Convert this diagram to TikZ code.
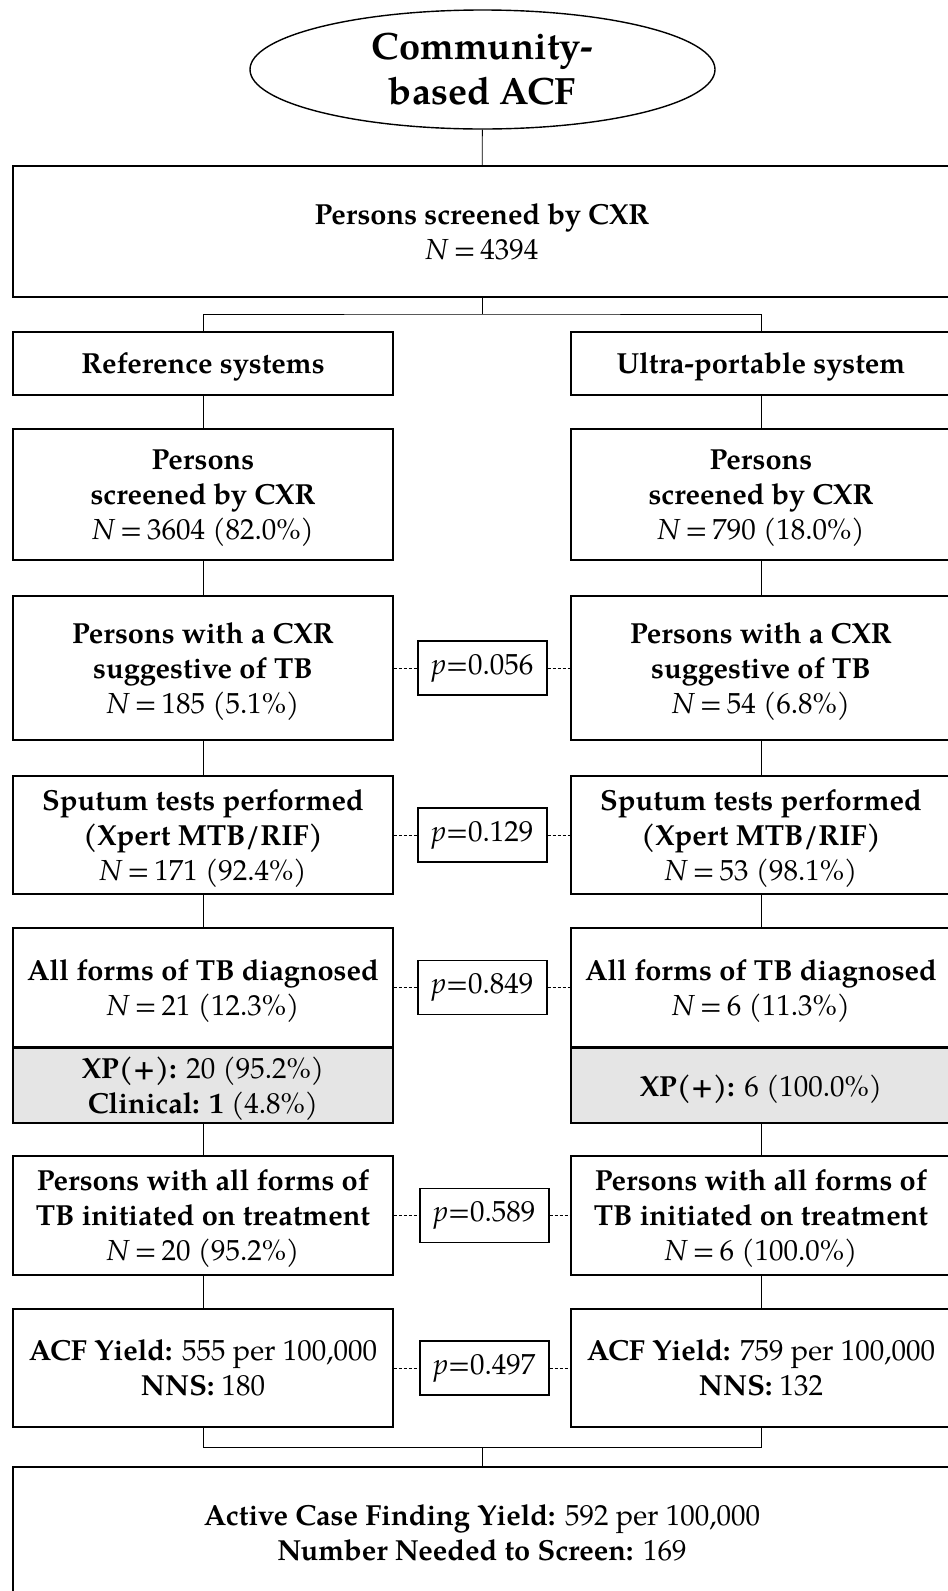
\documentclass[tikz,border=0pt]{standalone}
\usepackage{fontspec}
\setmainfont{TeX Gyre Pagella}
\usetikzlibrary{shapes.geometric}
\newcommand{\boxfont}{\fontsize{14.5pt}{17.5pt}\selectfont}
\newcommand{\titlefont}{\fontsize{19pt}{22.5pt}\selectfont}
\newcommand{\Neq}{\textit{N}\,=\,}
\tikzset{
	box/.style={draw, line width=0.7pt, minimum width=190pt, align=center, inner sep=2pt, text depth=0pt, font=\boxfont},
	widebox/.style={box, minimum width=469pt},
	greybox/.style={box, fill=black!10},
	pbox/.style={draw, line width=0.7pt, minimum width=64.5pt, minimum height=27pt, inner sep=1pt, font=\boxfont},
	link/.style={line width=0.45pt},
	plink/.style={line width=0.45pt, dash pattern=on 1.5pt off 1pt}
}
\begin{document}
\begin{tikzpicture}[x=0.5pt, y=-0.5pt]
		%%%%% START %%%%%
		\useasboundingbox[fill=white] (0, 0) rectangle (948, 1591);
		
		\node[draw, ellipse, line width=0.7pt, minimum width=232.5pt, minimum height=59.5pt, inner sep=0pt, align=center, font=\titlefont] (start) at (482.5, 69.5) {\textbf{Community-}\\\textbf{based ACF}};
		
		\node[widebox, minimum height=65.5pt] (total) at (482, 231.5) {\textbf{Persons screened by CXR}\\\Neq 4394};
		
		\node[box, minimum height=31.5pt] (refsys) at (203, 363.5) {\textbf{Reference systems}};
		\node[box, minimum height=31.5pt] (upsys) at (761, 363.5) {\textbf{Ultra-portable system}};
		
		\node[box, minimum height=65.5pt] (scrL) at (203, 494.5) {\textbf{Persons}\\\textbf{screened by CXR}\\\Neq 3604 (82.0\%)};
		\node[box, minimum height=65.5pt] (scrR) at (761, 494.5) {\textbf{Persons}\\\textbf{screened by CXR}\\\Neq 790 (18.0\%)};
		
		\node[box, minimum height=72pt] (sugL) at (203, 668) {\textbf{Persons with a CXR}\\\textbf{suggestive of TB}\\\Neq 185 (5.1\%)};
		\node[box, minimum height=72pt] (sugR) at (761, 668) {\textbf{Persons with a CXR}\\\textbf{suggestive of TB}\\\Neq 54 (6.8\%)};
		
		\node[box, minimum height=59pt] (sputL) at (203, 835) {\textbf{Sputum tests performed}\\\textbf{(Xpert MTB/RIF)}\\\Neq 171 (92.4\%)};
		\node[box, minimum height=59pt] (sputR) at (761, 835) {\textbf{Sputum tests performed}\\\textbf{(Xpert MTB/RIF)}\\\Neq 53 (98.1\%)};
		
		\node[box, minimum height=59.5pt] (dxL) at (203, 987.5) {\textbf{All forms of TB diagnosed}\\\Neq 21 (12.3\%)};
		\node[box, minimum height=59.5pt] (dxR) at (761, 987.5) {\textbf{All forms of TB diagnosed}\\\Neq 6 (11.3\%)};
		
		\node[greybox, minimum height=37.5pt] (xpL) at (203, 1085.5) {\textbf{XP(+):} 20 (95.2\%)\\\textbf{Clinical: 1} (4.8\%)};
		\node[greybox, minimum height=37.5pt] (xpR) at (761, 1085.5) {\textbf{XP(+):} 6 (100.0\%)};
		
		\node[box, minimum height=59.5pt] (txL) at (203, 1215.5) {\textbf{Persons with all forms of}\\\textbf{TB initiated on treatment}\\\Neq 20 (95.2\%)};
		\node[box, minimum height=59.5pt] (txR) at (761, 1215.5) {\textbf{Persons with all forms of}\\\textbf{TB initiated on treatment}\\\Neq 6 (100.0\%)};
		
		\node[box, minimum height=59pt] (yldL) at (203, 1368) {\textbf{ACF Yield:} 555 per 100,000\\\textbf{NNS:} 180};
		\node[box, minimum height=59pt] (yldR) at (761, 1368) {\textbf{ACF Yield:} 759 per 100,000\\\textbf{NNS:} 132};
		
		\node[widebox, minimum height=66pt] (acf) at (482, 1533) {\textbf{Active Case Finding Yield:} 592 per 100,000\\\textbf{Number Needed to Screen:} 169};
		
		\node[pbox] (p1) at (482.5, 668) {\textit{p}=0.056};
		\node[pbox] (p2) at (482.5, 835) {\textit{p}=0.129};
		\node[pbox] (p3) at (482.5, 987.5) {\textit{p}=0.849};
		\node[pbox] (p4) at (484.5, 1215.5) {\textit{p}=0.589};
		\node[pbox] (p5) at (484.5, 1368) {\textit{p}=0.497};
		
		\coordinate (split) at (482, 314);
		\coordinate (merge) at (482, 1447);
		
		\draw[link] (start) -- (total);
		\draw[link] (total) -- (split);
		\draw[link] (refsys.north) |- (split) -| (upsys.north);
		
		\draw[link] (refsys) -- (scrL);
		\draw[link] (scrL) -- (sugL);
		\draw[link] (sugL) -- (sputL);
		\draw[link] (sputL) -- (dxL);
		\draw[link] (xpL) -- (txL);
		\draw[link] (txL) -- (yldL);
		
		\draw[link] (upsys) -- (scrR);
		\draw[link] (scrR) -- (sugR);
		\draw[link] (sugR) -- (sputR);
		\draw[link] (sputR) -- (dxR);
		\draw[link] (xpR) -- (txR);
		\draw[link] (txR) -- (yldR);
		
		\draw[link] (yldL.south) |- (merge) -| (yldR.south);
		\draw[link] (merge) -- (acf);
		
		\draw[plink] (sugL) -- (p1) -- (sugR);
		\draw[plink] (sputL) -- (p2) -- (sputR);
		\draw[plink] (dxL) -- (p3) -- (dxR);
		\draw[plink] (txL) -- (p4) -- (txR);
		\draw[plink] (yldL) -- (p5) -- (yldR);
		
		%%%%% END %%%%%
\end{tikzpicture}
\end{document}
